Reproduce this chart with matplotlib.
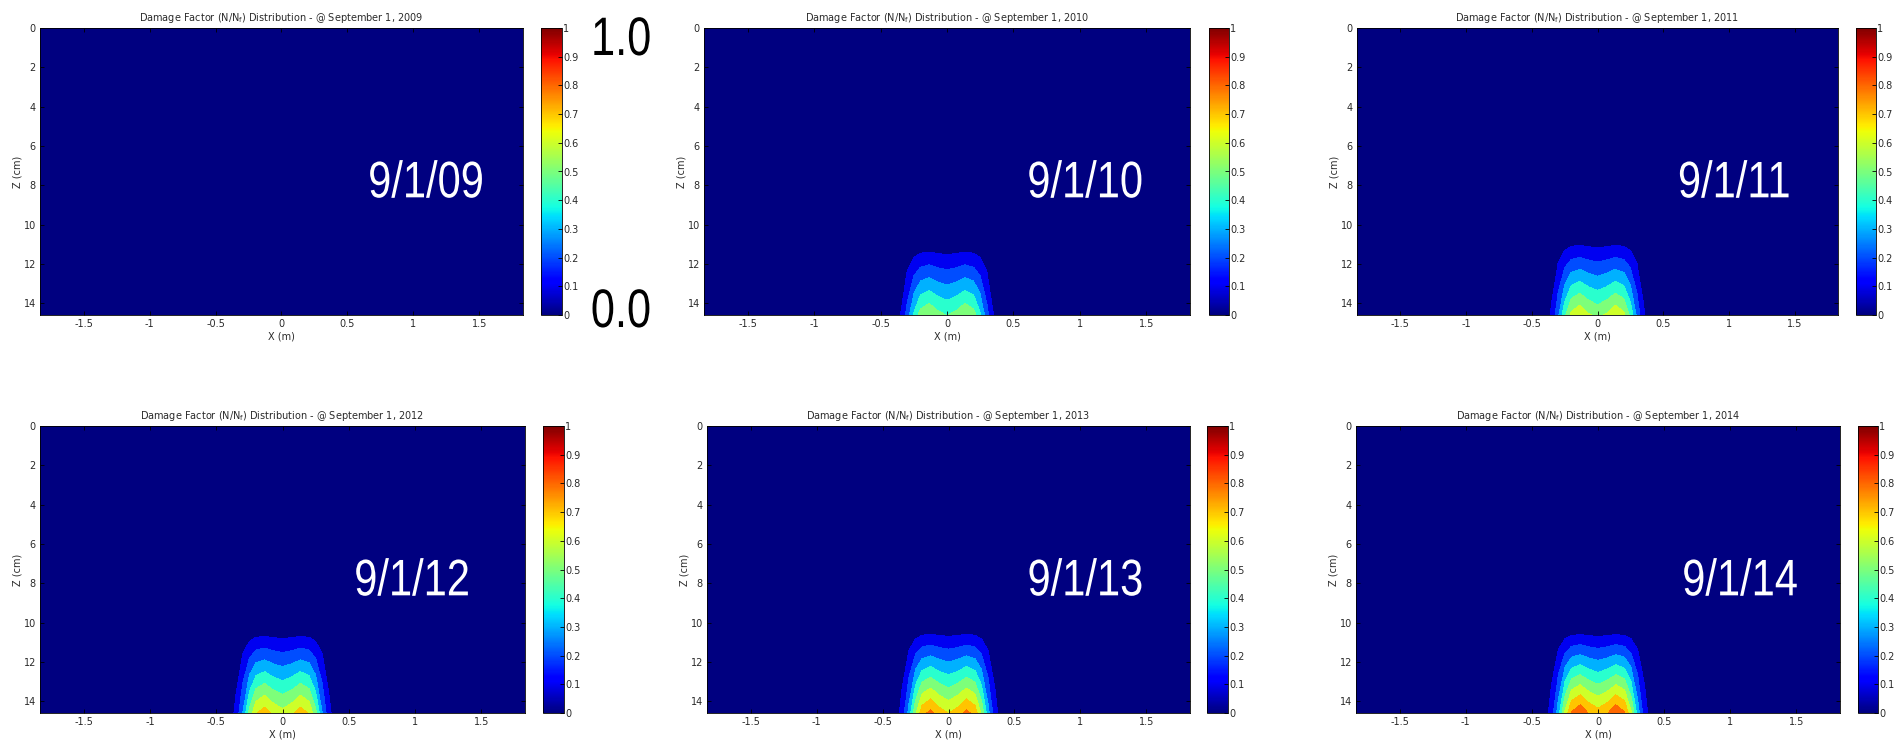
import numpy as np
import matplotlib as mpl
import matplotlib.pyplot as plt
from matplotlib import cm
from matplotlib.colors import Normalize
from matplotlib.patheffects import AbstractPathEffect
from matplotlib.transforms import Affine2D

mpl.rcParams.update({
    "font.family": "DejaVu Sans",
    "axes.unicode_minus": False,
    "mathtext.default": "regular",
})

# ----------------------------------------------------------------------------
# Damage factor data (N/Nf) under the wheel path, one panel per survey date
# ----------------------------------------------------------------------------
years = [2009, 2010, 2011, 2012, 2013, 2014]
date_labels = ["9/1/09", "9/1/10", "9/1/11", "9/1/12", "9/1/13", "9/1/14"]

# peak damage at the bottom of the layer, under the tyres
peak_damage = [0.0, 0.59, 0.68, 0.75, 0.83, 0.88]
# depth (cm) where damage starts to build up
onset_depth = [14.6, 10.75, 10.45, 10.1, 10.05, 10.1]
layer_bottom = 14.6

# relative damage across the section (dual tyre, lobes at +-0.135 m)
lateral_x = [-1.83, -0.45, -0.40, -0.35, -0.30, -0.25, -0.20, -0.135, -0.07, 0.0,
             0.07, 0.135, 0.20, 0.25, 0.30, 0.35, 0.40, 0.45, 1.83]
lateral_w = [0.0, 0.0, 0.06, 0.17, 0.40, 0.70, 0.92, 1.0, 0.90, 0.84,
             0.90, 1.0, 0.92, 0.70, 0.40, 0.17, 0.06, 0.0, 0.0]
# relative damage with depth: nothing above onset, full at the layer bottom
depth_w = [0.0, 0.0, 1.0]

levels = np.round(np.arange(0.0, 1.01, 0.1), 2)
cbar_ticks = [0, 0.1, 0.2, 0.3, 0.4, 0.5, 0.6, 0.7, 0.8, 0.9, 1.0]
cbar_labels = ["0", "0.1", "0.2", "0.3", "0.4", "0.5", "0.6", "0.7", "0.8", "0.9", "1"]
x_ticks = [-1.5, -1, -0.5, 0, 0.5, 1, 1.5]
x_ticklabels = ["-1.5", "-1", "-0.5", "0", "0.5", "1", "1.5"]
z_ticks = [0, 2, 4, 6, 8, 10, 12, 14]

# ----------------------------------------------------------------------------
# Layout in pixels: (left, right, top, bottom) of each map, colorbar x-range,
# and horizontal centre (axes fraction) of the date stamp
# ----------------------------------------------------------------------------
W, H = 1902, 746
boxes = [
    (40, 523, 28, 315), (704, 1190, 28, 315), (1357, 1838, 28, 315),
    (40, 525, 426, 713), (707, 1190, 426, 713), (1356, 1840, 426, 713),
]
cbars = [(541, 562), (1209, 1229), (1856, 1876), (543, 564), (1207, 1228), (1858, 1878)]
stamp_x = [0.799, 0.784, 0.784, 0.767, 0.783, 0.793]

NARROW = ["Liberation Sans", "DejaVu Sans"]
TXT = "#2a2a2a"


class Squeeze(AbstractPathEffect):
    """Draw glyphs narrower (condensed look) about their own centre."""

    def __init__(self, sx):
        super().__init__()
        self._sx = sx

    def draw_path(self, renderer, gc, tpath, affine, rgbFace=None):
        ext = tpath.get_extents()
        cx = 0.5 * (ext.x0 + ext.x1)
        squeeze = Affine2D().translate(-cx, 0).scale(self._sx, 1.0).translate(cx, 0)
        renderer.draw_path(gc, tpath, squeeze + affine, rgbFace)


def frac_box(l, r, t, b):
    return [l / W, 1 - b / H, (r - l) / W, (b - t) / H]


fig = plt.figure(figsize=(W / 100, H / 100), dpi=100)

band_colors = [cm.jet(lv) for lv in levels[:-1]]
x_grid = np.array(lateral_x)

for i, yr in enumerate(years):
    l, r, t, b = boxes[i]
    ax = fig.add_axes(frac_box(l, r, t, b))
    ax.set_facecolor(cm.jet(0.0))

    z_grid = np.array([0.0, onset_depth[i], layer_bottom])
    field = peak_damage[i] * np.outer(depth_w, lateral_w)
    ax.contourf(x_grid, z_grid, field, levels=levels, colors=band_colors)

    ax.set_xlim(-1.83, 1.83)
    ax.set_ylim(layer_bottom, 0)
    ax.set_xticks(x_ticks)
    ax.set_xticklabels(x_ticklabels)
    ax.set_yticks(z_ticks)
    ax.tick_params(direction="in", length=3, width=0.6, top=True, right=True,
                   labelsize=7, labelcolor=TXT, pad=3)
    for sp in ax.spines.values():
        sp.set_linewidth(0.6)
    ax.set_xlabel("X (m)", fontsize=7, color=TXT, labelpad=2)
    ax.set_ylabel("Z (cm)", fontsize=7, color=TXT, labelpad=1)
    ax.set_title(f"Damage Factor (N/N$_f$) Distribution - @ September 1, {yr}",
                 fontsize=7, color=TXT, pad=5)

    ax.text(stamp_x[i], 0.41, date_labels[i], transform=ax.transAxes,
            ha="center", va="baseline", color="white", fontsize=37,
            family=NARROW, path_effects=[Squeeze(0.81)])

    c0, c1 = cbars[i]
    cax = fig.add_axes(frac_box(c0, c1, t, b))
    sm = cm.ScalarMappable(norm=Normalize(0, 1), cmap="jet")
    cb = fig.colorbar(sm, cax=cax, ticks=cbar_ticks)
    cb.set_ticklabels(cbar_labels)
    cb.outline.set_linewidth(0.6)
    cax.tick_params(direction="in", length=3, width=0.6, labelsize=7,
                    labelcolor=TXT, pad=1)

# scale markers beside the first colorbar
fig.text(621 / W, 1 - 55 / H, "1.0", ha="center", va="baseline",
         fontsize=39, family=NARROW, color="black", path_effects=[Squeeze(0.8)])
fig.text(621 / W, 1 - 327 / H, "0.0", ha="center", va="baseline",
         fontsize=39, family=NARROW, color="black", path_effects=[Squeeze(0.8)])

fig.savefig("out.png", dpi=100, facecolor="white")
